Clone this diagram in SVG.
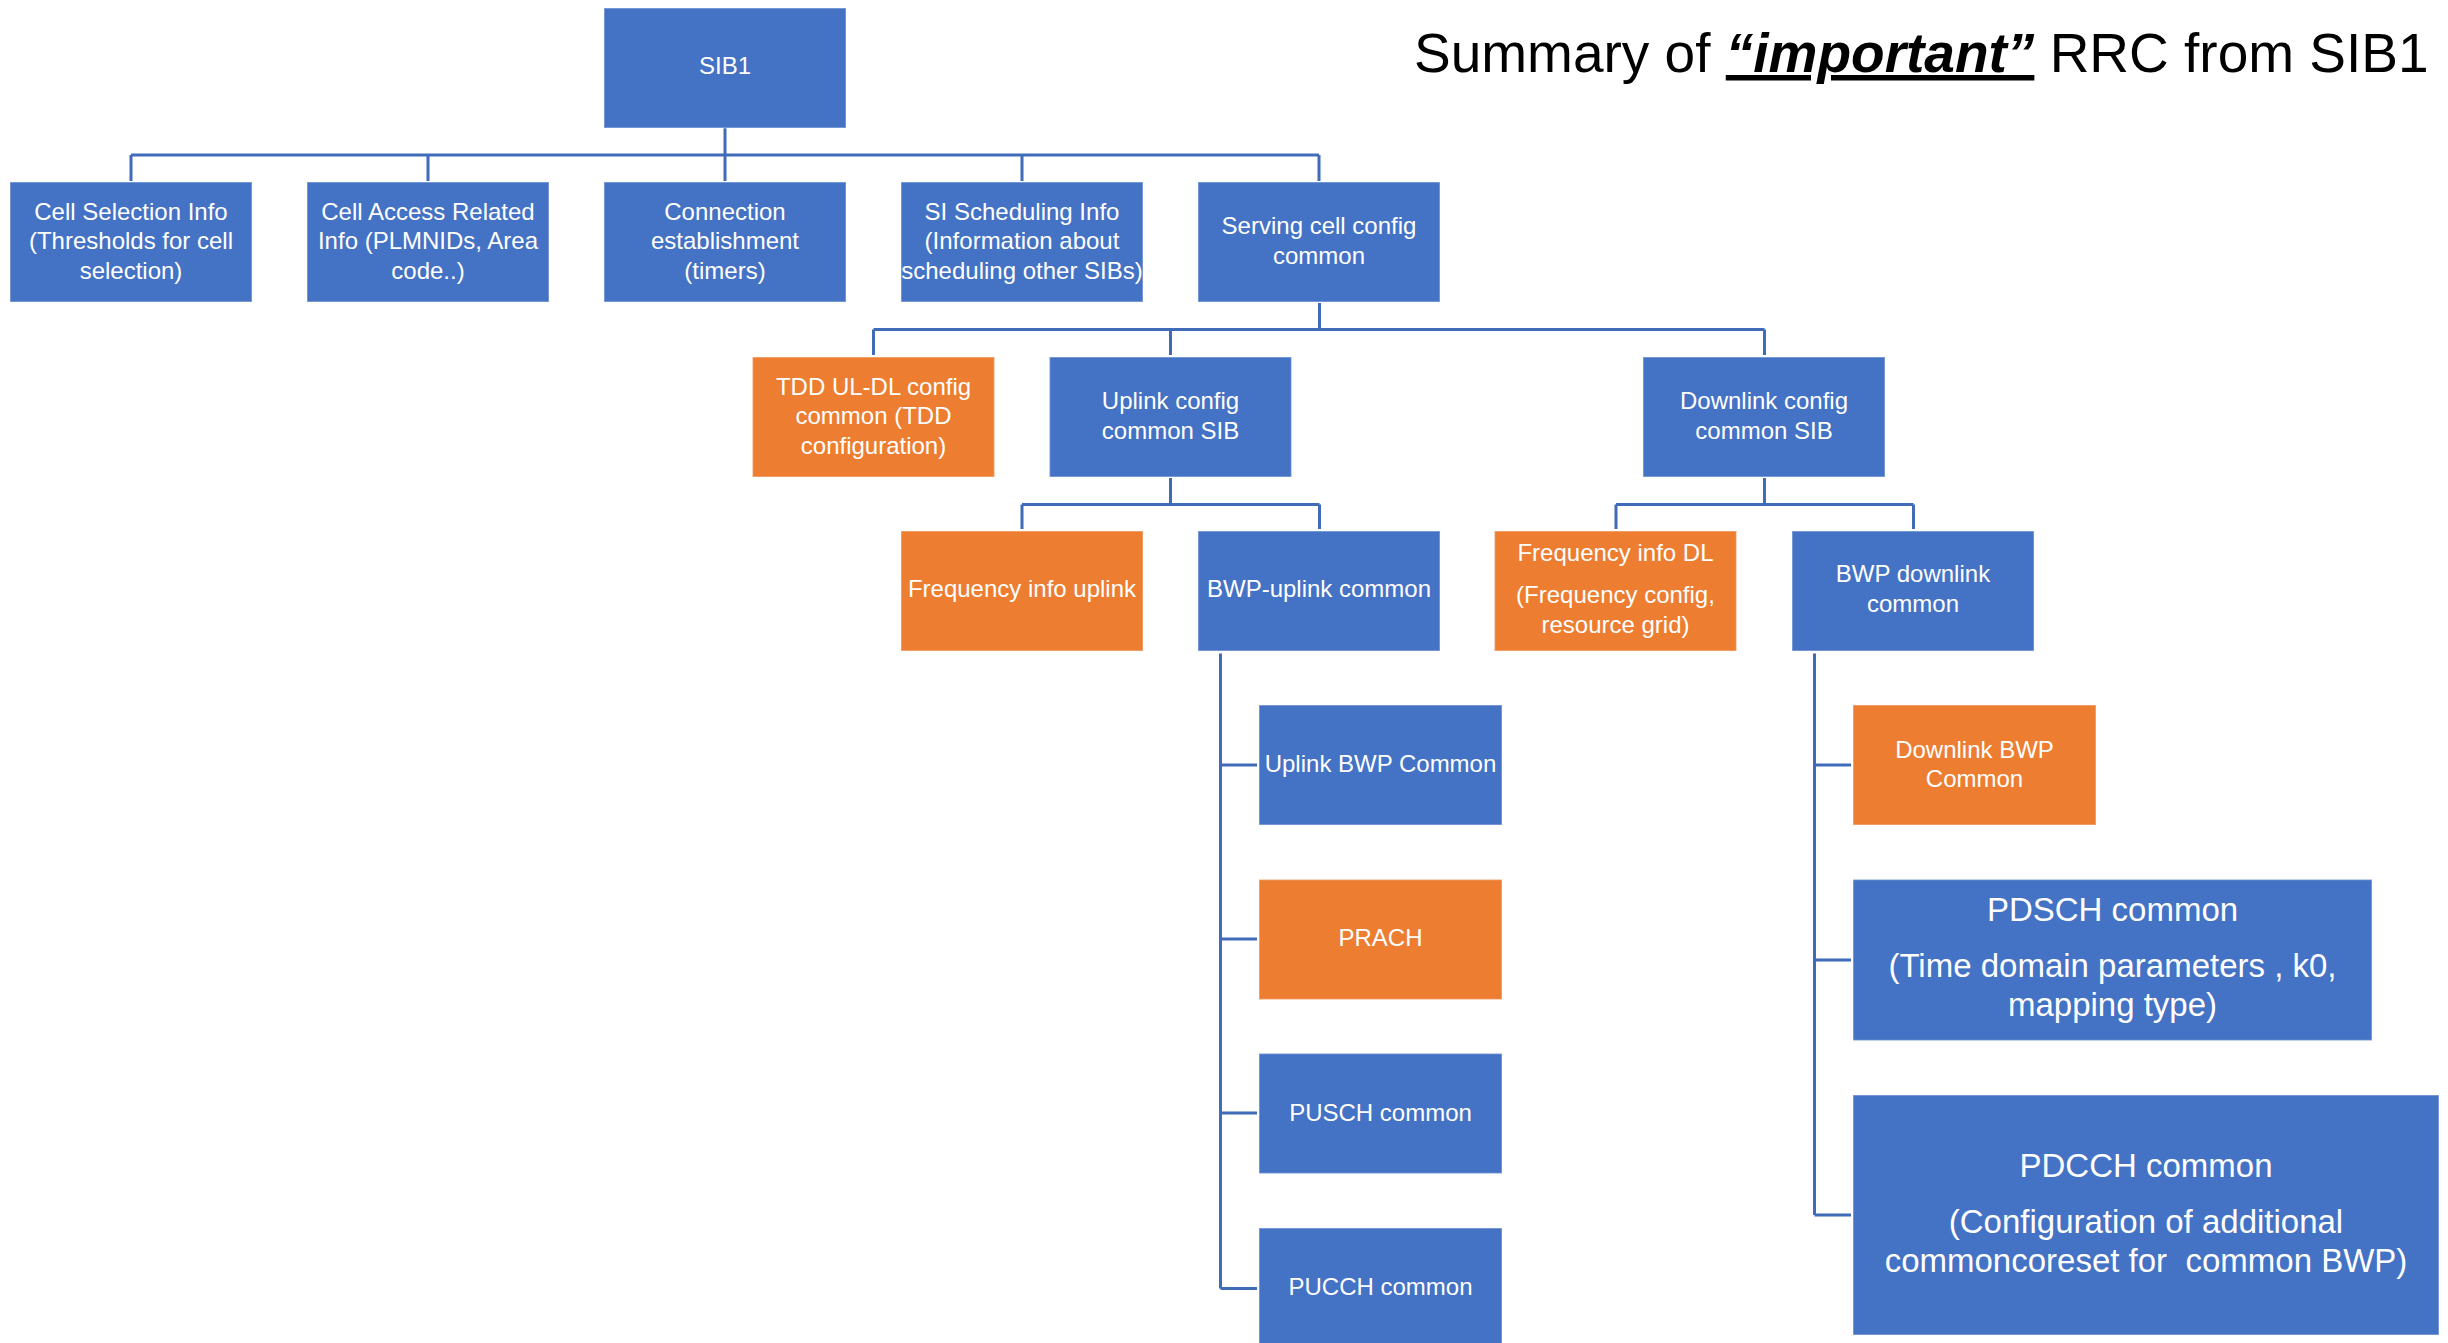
<svg xmlns="http://www.w3.org/2000/svg" width="2448" height="1343" viewBox="0 0 2448 1343">
<style>
.b{fill:#4472C4;stroke:#ffffff;stroke-opacity:0.35;stroke-width:1.5}
.o{fill:#ED7D31;stroke:#ffffff;stroke-opacity:0.35;stroke-width:1.5}
.t{font-family:"Liberation Sans",Arial,sans-serif;font-size:24px;fill:#ffffff;text-anchor:middle}
.L{font-size:33px}
.c{fill:none;stroke:#3F6BB8;stroke-width:3}
.title{font-family:"Liberation Sans",Arial,sans-serif;font-size:55px;fill:#000000}
</style>
<rect width="2448" height="1343" fill="#ffffff"/>
<text class="title" x="1414" y="72">Summary of <tspan font-style="italic" font-weight="bold" text-decoration="underline">“important”</tspan> RRC from SIB1</text>
<g id="connectors">
<path class="c" d="M725 128V155M131 155H1319M131 155V181M428 155V181M725 155V181M1022 155V181M1319 155V181"/>
<path class="c" d="M1319.5 303V329.5M873.5 329.5H1764.5M873.5 329.5V355M1170.5 329.5V355M1764.5 329.5V355"/>
<path class="c" d="M1170.5 478V504.5M1022 504.5H1319.5M1022 504.5V529M1319.5 504.5V529"/>
<path class="c" d="M1764.5 478V504.5M1616 504.5H1913.5M1616 504.5V529M1913.5 504.5V529"/>
<path class="c" d="M1220.5 653.5V1288.5M1220.5 765H1257M1220.5 939H1257M1220.5 1113H1257M1220.5 1288.5H1257"/>
<path class="c" d="M1814.5 653.5V1215M1814.5 765H1851M1814.5 960H1851M1814.5 1215H1851"/>
</g>
<g id="sib1"><rect class="b" x="604" y="8" width="242" height="120"/><text class="t" x="725" y="74">SIB1</text></g>
<g id="cell-selection"><rect class="b" x="10" y="182" width="242" height="120"/><text class="t" x="131" y="219.5">Cell Selection Info</text><text class="t" x="131" y="249">(Thresholds for cell</text><text class="t" x="131" y="278.5">selection)</text></g>
<g id="cell-access"><rect class="b" x="307" y="182" width="242" height="120"/><text class="t" x="428" y="219.5">Cell Access Related</text><text class="t" x="428" y="249">Info (PLMNIDs, Area</text><text class="t" x="428" y="278.5">code..)</text></g>
<g id="connection"><rect class="b" x="604" y="182" width="242" height="120"/><text class="t" x="725" y="219.5">Connection</text><text class="t" x="725" y="249">establishment</text><text class="t" x="725" y="278.5">(timers)</text></g>
<g id="si-scheduling"><rect class="b" x="901" y="182" width="242" height="120"/><text class="t" x="1022" y="219.5">SI Scheduling Info</text><text class="t" x="1022" y="249">(Information about</text><text class="t" x="1022" y="278.5">scheduling other SIBs)</text></g>
<g id="serving-cell"><rect class="b" x="1198" y="182" width="242" height="120"/><text class="t" x="1319" y="234">Serving cell config</text><text class="t" x="1319" y="263.5">common</text></g>
<g id="tdd"><rect class="o" x="752.5" y="357" width="242" height="120"/><text class="t" x="873.5" y="394.5">TDD UL-DL config</text><text class="t" x="873.5" y="424">common (TDD</text><text class="t" x="873.5" y="453.5">configuration)</text></g>
<g id="uplink-config"><rect class="b" x="1049.5" y="357" width="242" height="120"/><text class="t" x="1170.5" y="409">Uplink config</text><text class="t" x="1170.5" y="438.5">common SIB</text></g>
<g id="downlink-config"><rect class="b" x="1643" y="357" width="242" height="120"/><text class="t" x="1764" y="409">Downlink config</text><text class="t" x="1764" y="438.5">common SIB</text></g>
<g id="freq-ul"><rect class="o" x="901" y="531" width="242" height="120"/><text class="t" x="1022" y="597">Frequency info uplink</text></g>
<g id="bwp-ul"><rect class="b" x="1198" y="531" width="242" height="120"/><text class="t" x="1319" y="597">BWP-uplink common</text></g>
<g id="freq-dl"><rect class="o" x="1494.5" y="531" width="242" height="120"/><text class="t" x="1615.5" y="561">Frequency info DL</text><text class="t" x="1615.5" y="603">(Frequency config,</text><text class="t" x="1615.5" y="632.5">resource grid)</text></g>
<g id="bwp-dl"><rect class="b" x="1792" y="531" width="242" height="120"/><text class="t" x="1913" y="582">BWP downlink</text><text class="t" x="1913" y="611.5">common</text></g>
<g id="uplink-bwp-common"><rect class="b" x="1259" y="705" width="243" height="120"/><text class="t" x="1380.5" y="772">Uplink BWP Common</text></g>
<g id="prach"><rect class="o" x="1259" y="879.5" width="243" height="120"/><text class="t" x="1380.5" y="946">PRACH</text></g>
<g id="pusch"><rect class="b" x="1259" y="1053.5" width="243" height="120"/><text class="t" x="1380.5" y="1120.5">PUSCH common</text></g>
<g id="pucch"><rect class="b" x="1259" y="1228" width="243" height="120"/><text class="t" x="1380.5" y="1295">PUCCH common</text></g>
<g id="downlink-bwp-common"><rect class="o" x="1853" y="705" width="243" height="120"/><text class="t" x="1974.5" y="757.5">Downlink BWP</text><text class="t" x="1974.5" y="787">Common</text></g>
<g id="pdsch"><rect class="b" x="1853" y="879.5" width="519" height="161"/><text class="t L" x="2112.5" y="920.5">PDSCH common</text><text class="t L" x="2112.5" y="977">(Time domain parameters , k0,</text><text class="t L" x="2112.5" y="1015.5">mapping type)</text></g>
<g id="pdcch"><rect class="b" x="1853" y="1095" width="586" height="240"/><text class="t L" x="2146" y="1176.5">PDCCH common</text><text class="t L" x="2146" y="1232.5">(Configuration of additional</text><text class="t L" x="2146" y="1271.5" xml:space="preserve">commoncoreset for  common BWP)</text></g>
</svg>
